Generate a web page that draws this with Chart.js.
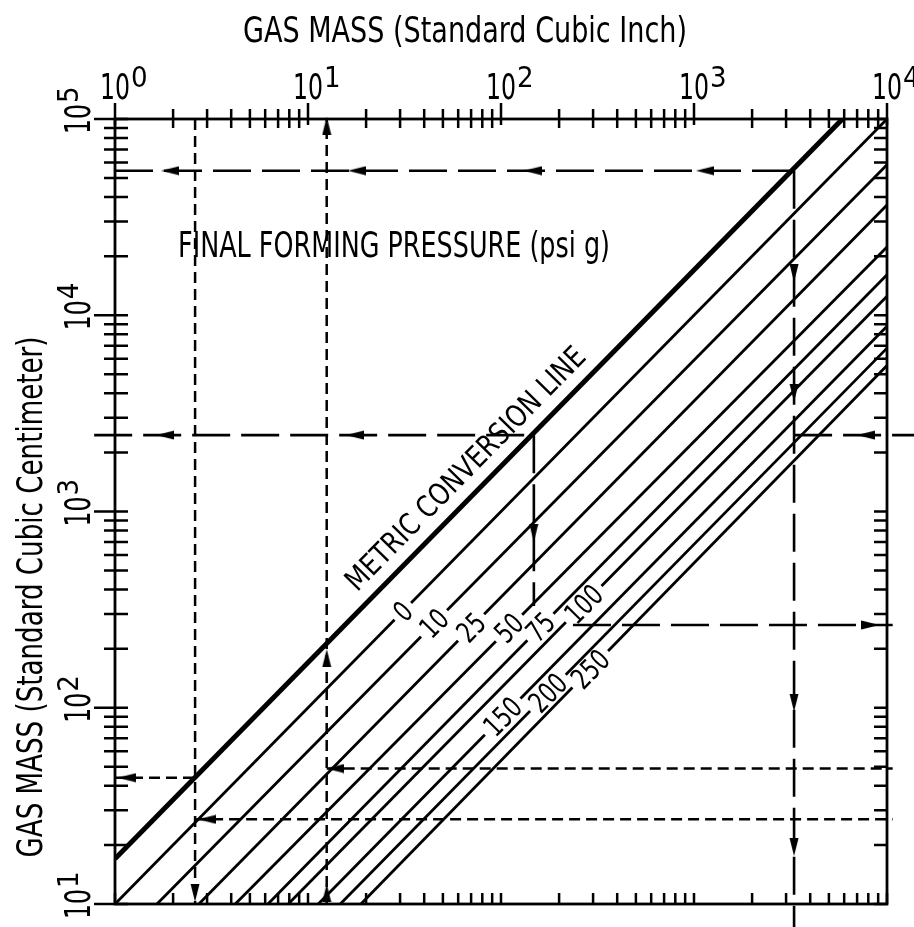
<!DOCTYPE html>
<html>
<head>
<meta charset="utf-8">
<script src="https://cdn.jsdelivr.net/npm/chart.js@4.4.1/dist/chart.umd.min.js"></script>
<style>
  html, body { margin: 0; padding: 0; background: #fff; }
  canvas { display: block; }
</style>
</head>
<body>
<canvas id="chart" width="914" height="927"></canvas>
<script>
const FONT = '"Liberation Sans Narrow", "DejaVu Sans Condensed", "Liberation Sans", sans-serif';

// pressure lines (psi g): where each one meets 10 cc (bottom) and 10^4 in3 (right edge)
const pressureNames = ['0', '10', '25', '50', '75', '100', '150', '200', '250'];
const pressureBottomX = [1, 1.65, 2.72, 4.2, 6.2, 7.9, 11.3, 14.7, 18.8];
const pressureRightY = [100000, 58500, 36500, 22300, 16100, 12500, 8800, 6800, 5550];
const pressureLabelX = [31, 45, 70, 110, 160, 268, 102, 175, 290];

// metric conversion line
const metricX = [1, 5880];
const metricY = [17, 100000];
const metricLabelX = 80;

// axes
const xDecades = [0, 1, 2, 3, 4];
const yDecades = [1, 2, 3, 4, 5];
const minorSteps = [2, 3, 4, 5, 6, 7, 8, 9];

// example reading lines, long dashes
const longDashX = [[1, 3300], [3300, 3300], [0.78, 148], [148, 148], [3300, 13800], [236, 10700]];
const longDashY = [[54500, 54500], [54500, 7.6], [2450, 2450], [2450, 330], [2450, 2450], [264, 264]];
// short dashes
const shortDashX = [[2.6, 2.6], [1, 2.6], [2.6, 10700], [12.5, 12.5], [12.5, 10700]];
const shortDashY = [[100000, 10], [44, 44], [27, 27], [10, 100000], [49, 49]];

// arrow heads on the reading lines (direction in degrees, 0 = up)
const arrowX = [1.93, 17.9, 146, 1140, 1.82, 17.5, 148, 7780, 8200, 3300, 3300, 3300, 3300,
                2.6, 1.15, 3.0, 12.5, 12.5, 12.5, 13.8];
const arrowY = [54500, 54500, 54500, 54500, 2450, 2450, 776, 2450, 264, 16400, 4020, 106, 19.5,
                11.4, 44, 27, 11.4, 179, 92500, 49];
const arrowDir = [270, 270, 270, 270, 270, 270, 180, 270, 90, 180, 180, 180, 180,
                  180, 270, 270, 0, 0, 0, 270];

// flecha estrecha para los puntos
const arrowImg = document.createElement('canvas');
arrowImg.width = 10;
arrowImg.height = 18;
const actx = arrowImg.getContext('2d');
actx.fillStyle = '#000';
actx.beginPath();
actx.moveTo(5, 0);
actx.lineTo(9.5, 18);
actx.lineTo(0.5, 18);
actx.closePath();
actx.fill();

const datasets = [];
pressureNames.forEach((p, i) => {
    datasets.push({
        label: p + ' psi g',
        data: [{x: pressureBottomX[i], y: 10}, {x: 10000, y: pressureRightY[i]}],
        showLine: true, borderColor: '#000', borderWidth: 2.8, pointRadius: 0
    });
});
datasets.push({
    label: 'METRIC CONVERSION LINE',
    data: metricX.map((v, i) => ({x: v, y: metricY[i]})),
    showLine: true, borderColor: '#000', borderWidth: 5, pointRadius: 0
});
longDashX.forEach((xs, i) => {
    datasets.push({
        label: 'long ' + i,
        data: xs.map((v, j) => ({x: v, y: longDashY[i][j]})),
        showLine: true, borderColor: '#000', borderWidth: 2.6, borderDash: [38, 11],
        pointRadius: 0, clip: false
    });
});
shortDashX.forEach((xs, i) => {
    datasets.push({
        label: 'short ' + i,
        data: xs.map((v, j) => ({x: v, y: shortDashY[i][j]})),
        showLine: true, borderColor: '#000', borderWidth: 2.5, borderDash: [11, 6],
        pointRadius: 0, clip: false
    });
});
datasets.push({
    label: 'arrows',
    data: arrowX.map((v, i) => ({x: v, y: arrowY[i]})),
    showLine: false, pointStyle: arrowImg, pointRadius: 3, pointRotation: arrowDir,
    clip: false
});

// texto ajustado a un ancho dado
function fitText(ctx, text, x, y, width, size, align) {
    ctx.font = size + 'px ' + FONT;
    const w = ctx.measureText(text).width;
    ctx.save();
    ctx.translate(x, y);
    ctx.scale(width / w, 1);
    ctx.textAlign = align || 'left';
    ctx.textBaseline = 'alphabetic';
    ctx.fillText(text, 0, 0);
    ctx.restore();
}

function powerLabel(ctx, exp) {
    fitText(ctx, '10', 0, 0, 30, 36, 'center');
    ctx.font = '29px ' + FONT;
    ctx.textAlign = 'left';
    ctx.fillText(String(exp), 16, -12);
}

const drawingPlugin = {
    id: 'drawing',
    afterDatasetsDraw(chart) {
        const ctx = chart.ctx;
        const a = chart.chartArea;
        const xs = chart.scales.x;
        const ys = chart.scales.y;
        ctx.save();
        ctx.strokeStyle = '#000';
        ctx.fillStyle = '#000';

        // pressure labels, line broken under the text
        pressureNames.forEach((p, i) => {
            const x0 = xs.getPixelForValue(pressureBottomX[i]), y0 = ys.getPixelForValue(10);
            const x1 = xs.getPixelForValue(10000), y1 = ys.getPixelForValue(pressureRightY[i]);
            const px = xs.getPixelForValue(pressureLabelX[i]);
            const py = y0 + (px - x0) / (x1 - x0) * (y1 - y0);
            ctx.save();
            ctx.translate(px, py);
            ctx.rotate(Math.atan2(y1 - y0, x1 - x0));
            ctx.font = '29px ' + FONT;
            const w = ctx.measureText(p).width * 0.82;
            ctx.fillStyle = '#fff';
            ctx.fillRect(-w / 2 - 5, -5, w + 10, 10);
            ctx.fillStyle = '#000';
            fitText(ctx, p, 0, 10, w, 29, 'center');
            ctx.restore();
        });

        // metric label
        {
            const x0 = xs.getPixelForValue(metricX[0]), y0 = ys.getPixelForValue(metricY[0]);
            const x1 = xs.getPixelForValue(metricX[1]), y1 = ys.getPixelForValue(metricY[1]);
            const px = xs.getPixelForValue(metricLabelX);
            const py = y0 + (px - x0) / (x1 - x0) * (y1 - y0);
            ctx.save();
            ctx.translate(px, py);
            ctx.rotate(Math.atan2(y1 - y0, x1 - x0));
            fitText(ctx, 'METRIC CONVERSION LINE', 0, -14, 328, 30, 'center');
            ctx.restore();
        }

        // frame
        ctx.lineWidth = 2.8;
        ctx.strokeRect(a.left, a.top, a.right - a.left, a.bottom - a.top);

        // tick marks
        ctx.lineWidth = 2.5;
        ctx.beginPath();
        xDecades.forEach(d => {
            [1].concat(minorSteps).forEach(m => {
                const v = m * Math.pow(10, d);
                if (v > xs.max * 1.0001) return;
                const px = xs.getPixelForValue(v);
                const major = m === 1;
                ctx.moveTo(px, a.top - (major ? 16 : 10));
                ctx.lineTo(px, a.top + (major ? 6 : 9));
                ctx.moveTo(px, a.bottom);
                ctx.lineTo(px, a.bottom - 11);
            });
        });
        yDecades.forEach(d => {
            [1].concat(minorSteps).forEach(m => {
                const v = m * Math.pow(10, d);
                if (v > ys.max * 1.0001) return;
                const py = ys.getPixelForValue(v);
                const major = m === 1;
                ctx.moveTo(a.left - (major ? 21 : 11), py);
                ctx.lineTo(a.left + 13, py);
                ctx.moveTo(a.right - 13, py);
                ctx.lineTo(a.right, py);
            });
        });
        ctx.stroke();

        // tick labels
        xDecades.forEach(d => {
            ctx.save();
            ctx.translate(xs.getPixelForValue(Math.pow(10, d)), a.top - 20);
            powerLabel(ctx, d);
            ctx.restore();
        });
        yDecades.forEach(d => {
            ctx.save();
            ctx.translate(a.left - 25, ys.getPixelForValue(Math.pow(10, d)));
            ctx.rotate(-Math.PI / 2);
            powerLabel(ctx, d);
            ctx.restore();
        });

        // titles
        fitText(ctx, 'GAS MASS (Standard Cubic Inch)', 465, 42, 444, 35, 'center');
        ctx.save();
        ctx.translate(42, 597);
        ctx.rotate(-Math.PI / 2);
        fitText(ctx, 'GAS MASS (Standard Cubic Centimeter)', 0, 0, 521, 35, 'center');
        ctx.restore();
        fitText(ctx, 'FINAL FORMING PRESSURE (psi g)', 178, 257, 432, 35, 'left');

        ctx.restore();
    }
};

new Chart(document.getElementById('chart'), {
    type: 'scatter',
    data: { datasets: datasets },
    options: {
        responsive: false,
        animation: false,
        devicePixelRatio: 1,
        layout: { padding: { left: 115, right: 27, top: 119, bottom: 23 } },
        scales: {
            x: { type: 'logarithmic', min: 1, max: 10000, display: false },
            y: { type: 'logarithmic', min: 10, max: 100000, display: false }
        },
        plugins: {
            legend: { display: false },
            tooltip: { enabled: false }
        }
    },
    plugins: [drawingPlugin]
});
</script>
</body>
</html>
